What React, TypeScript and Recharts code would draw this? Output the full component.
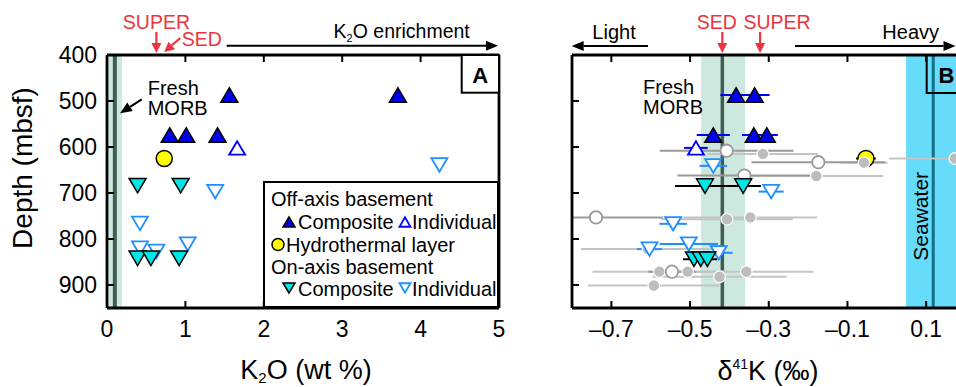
import React from 'react';
import {
  ScatterChart, Scatter, XAxis, YAxis, ErrorBar, ReferenceArea, ReferenceLine, ReferenceDot, Legend,
} from 'recharts';

const FONT = '"Liberation Sans", Arial, Helvetica, sans-serif';

// ---------- shared ----------
const depthTicks = [400, 500, 600, 700, 800, 900];
const depthDomain = [400, 950];

// ---------- Panel A: K2O (wt %) ----------
const k2oTicks = [0, 1, 2, 3, 4, 5];
const k2oTopTicks = [1, 2, 3, 4];
const offAxisCompositeA = [
  { k2o: 1.56, depth: 487 }, { k2o: 3.71, depth: 487 },
  { k2o: 0.8, depth: 574 }, { k2o: 1.01, depth: 574 }, { k2o: 1.41, depth: 574 },
];
const offAxisIndividualA = [{ k2o: 1.66, depth: 602 }];
const hydrothermalA = [{ k2o: 0.73, depth: 625 }];
const onAxisCompositeA = [
  { k2o: 0.39, depth: 684 }, { k2o: 0.94, depth: 684 },
  { k2o: 0.39, depth: 842 }, { k2o: 0.56, depth: 842 }, { k2o: 0.92, depth: 842 },
];
const onAxisIndividualA = [
  { k2o: 4.24, depth: 639 }, { k2o: 1.38, depth: 697 }, { k2o: 0.42, depth: 766 },
  { k2o: 1.03, depth: 811 }, { k2o: 0.42, depth: 820 }, { k2o: 0.63, depth: 827 },
];
const morbK2O = { low: 0, high: 0.19, mean: 0.1 };
const superK2O = 0.63;
const sedK2O = 0.73;

// ---------- Panel B: d41K (permil) ----------
const d41kTicks = [-0.7, -0.5, -0.3, -0.1, 0.1];
const offAxisCompositeB = [
  { d41k: -0.383, err: 0.04, depth: 487 }, { d41k: -0.336, err: 0.038, depth: 487 },
  { d41k: -0.441, err: 0.042, depth: 574 }, { d41k: -0.338, err: 0.03, depth: 574 },
  { d41k: -0.305, err: 0.028, depth: 574 },
];
const offAxisIndividualB = [{ d41k: -0.485, err: 0.03, depth: 602 }];
const hydrothermalB = [{ d41k: -0.053, err: 0.025, depth: 625 }];
const onAxisCompositeB = [
  { d41k: -0.462, err: 0.076, depth: 685 }, { d41k: -0.365, err: 0.045, depth: 685 },
  { d41k: -0.49, err: 0.028, depth: 844 }, { d41k: -0.473, err: 0.025, depth: 844 },
  { d41k: -0.456, err: 0.025, depth: 844 },
];
const onAxisIndividualB = [
  { d41k: -0.441, err: 0.035, depth: 641 }, { d41k: -0.294, err: 0.032, depth: 697 },
  { d41k: -0.543, err: 0.035, depth: 767 }, { d41k: -0.503, err: 0.074, depth: 811 },
  { d41k: -0.603, err: 0.032, depth: 822 }, { d41k: -0.427, err: 0.035, depth: 830 },
];
// err = [towards lighter, towards heavier]; the lighter side of one bar is cut by the axis frame
const literatureOpenB = [
  { d41k: -0.407, err: [0.17, 0.17], depth: 608 }, { d41k: -0.174, err: [0.17, 0.17], depth: 633 },
  { d41k: -0.362, err: [0.17, 0.17], depth: 662 }, { d41k: -0.739, err: [0.061, 0.17], depth: 753 },
  { d41k: -0.546, err: [0.06, 0.06], depth: 871 },
];
const literatureFilledB = [
  { d41k: -0.315, err: 0.14, depth: 615 }, { d41k: -0.058, err: 0.06, depth: 634 },
  { d41k: 0.173, err: 0.167, depth: 625 }, { d41k: -0.179, err: 0.17, depth: 663 },
  { d41k: -0.406, err: 0.167, depth: 757 }, { d41k: -0.347, err: 0.17, depth: 753 },
  { d41k: -0.607, err: 0.17, depth: 822 }, { d41k: -0.578, err: 0.17, depth: 871 },
  { d41k: -0.506, err: 0.1, depth: 871 }, { d41k: -0.357, err: 0.17, depth: 871 },
  { d41k: -0.425, err: 0.17, depth: 882 }, { d41k: -0.592, err: 0.167, depth: 901 },
];
const morbD41K = { low: -0.472, high: -0.36, mean: -0.418 };
const seawaterD41K = { low: 0.049, high: 0.3, mean: 0.118 };
const sedD41K = -0.418;
const superD41K = -0.322;

// ---------- colours ----------
const BLUE = '#0000f0';
const CYAN = '#00e6e6';
const DODGER = '#1e8fff';
const RED = '#ee3340';
const MORB_BAND = '#cde9df';
const MORB_LINE = '#3e5d54';
const SEA_BAND = '#66dbfa';
const SEA_LINE = '#147089';

// ---------- shapes ----------
const triPts = (cx: number, cy: number, w: number, h: number, up: boolean) =>
  up
    ? `${cx},${cy - h / 2} ${cx - w / 2},${cy + h / 2} ${cx + w / 2},${cy + h / 2}`
    : `${cx},${cy + h / 2} ${cx - w / 2},${cy - h / 2} ${cx + w / 2},${cy - h / 2}`;

const TriUpFilled = (p: any) => (
  <polygon points={triPts(p.cx, p.cy, p.w || 17, p.h || 14.5, true)} fill={BLUE} stroke="#000" strokeWidth={1.5} />
);
const TriUpOpen = (p: any) => (
  <polygon points={triPts(p.cx, p.cy, p.w || 16, p.h || 13.5, true)} fill="#fff" stroke="#0000ff" strokeWidth={1.8} />
);
const TriDownFilled = (p: any) => (
  <polygon points={triPts(p.cx, p.cy, p.w || 17, p.h || 14.5, false)} fill={CYAN} stroke="#000" strokeWidth={1.5} />
);
const TriDownOpen = (p: any) => (
  <polygon points={triPts(p.cx, p.cy, p.w || 16, p.h || 13.5, false)} fill="#fff" stroke={DODGER} strokeWidth={1.8} />
);
const YellowDot = (p: any) => (
  <circle cx={p.cx} cy={p.cy} r={p.r || 8} fill="#ffff00" stroke="#000" strokeWidth={1.5} />
);
const GreyOpen = (p: any) => (
  <circle cx={p.cx} cy={p.cy} r={6.2} fill="#fff" stroke="#9a9a9a" strokeWidth={1.8} />
);
const GreyFilled = (p: any) => (
  <circle cx={p.cx} cy={p.cy} r={5.8} fill="#bdbdbd" stroke="#fff" strokeWidth={1.2} />
);

// ---------- ticks ----------
const fmtA = (v: number) => String(v);
const fmtB = (v: number) => (v < 0 ? '\u2013' + Math.abs(v).toFixed(1) : v.toFixed(1));

const makeBottomTick = (fmt: (v: number) => string) => (p: any) => (
  <g>
    <line x1={p.x} x2={p.x} y1={p.y} y2={p.y - 7} stroke="#000" strokeWidth={2} />
    <text x={p.x} y={p.y + 29} textAnchor="middle" fontSize={23} fontFamily={FONT} fill="#000">{fmt(p.payload.value)}</text>
  </g>
);
const TopTick = (p: any) => (
  <line x1={p.x} x2={p.x} y1={p.y} y2={p.y + 7} stroke="#000" strokeWidth={2} />
);
const LeftTickLabeled = (p: any) => (
  <g>
    <line x1={p.x} x2={p.x + 7} y1={p.y} y2={p.y} stroke="#000" strokeWidth={2} />
    <text x={p.x - 10} y={p.y + 8} textAnchor="end" fontSize={23} fontFamily={FONT} fill="#000">{p.payload.value}</text>
  </g>
);
const LeftTickPlain = (p: any) => (
  <line x1={p.x} x2={p.x + 7} y1={p.y} y2={p.y} stroke="#000" strokeWidth={2} />
);

const AXIS_LINE = { stroke: '#000', strokeWidth: 2.8 };

// ---------- annotation arrows bound to data ----------
const VArrow = ({ cx, cy, color, label, dxText }: any) => (
  <g>
    <line x1={cx} x2={cx} y1={cy - 23} y2={cy - 10} stroke={color} strokeWidth={2.2} />
    <polygon points={`${cx},${cy - 2} ${cx - 5},${cy - 12} ${cx + 5},${cy - 12}`} fill={color} />
    <text x={cx + dxText} y={cy - 26} textAnchor="middle" fontSize={19.5} fontFamily={FONT} fill={color}>{label}</text>
  </g>
);
const SedArrowA = ({ cx, cy }: any) => {
  const tx = cx, ty = cy - 3;
  const sx = cx + 16, sy = cy - 17;
  const ang = Math.atan2(ty - sy, tx - sx);
  const L = 10, W = 5;
  const bx = tx - L * Math.cos(ang), by = ty - L * Math.sin(ang);
  const nx = -Math.sin(ang) * W, ny = Math.cos(ang) * W;
  return (
    <g>
      <line x1={sx} y1={sy} x2={bx} y2={by} stroke={RED} strokeWidth={2.2} />
      <polygon points={`${tx},${ty} ${bx + nx},${by + ny} ${bx - nx},${by - ny}`} fill={RED} />
      <text x={cx + 37.5} y={cy - 9} textAnchor="middle" fontSize={19.5} fontFamily={FONT} fill={RED}>SED</text>
    </g>
  );
};

// ---------- legend ----------
const LegendA = () => (
  <svg width={236} height={127} style={{ display: 'block' }}>
    <rect x={1} y={1} width={234} height={125} fill="#fff" stroke="#000" strokeWidth={2} />
    <g fontFamily={FONT} fontSize={20} fill="#000">
      <text x={8} y={24.5}>Off-axis basement</text>
      <TriUpFilled cx={26} cy={41} w={12} h={10} />
      <text x={35} y={47.5}>Composite</text>
      <TriUpOpen cx={142} cy={41} w={11} h={9.5} />
      <text x={149} y={47.5}>Individual</text>
      <YellowDot cx={15} cy={63.5} r={6} />
      <text x={23} y={70.5}>Hydrothermal layer</text>
      <text x={8} y={93}>On-axis basement</text>
      <TriDownFilled cx={26} cy={107} w={12} h={10} />
      <text x={35} y={114.5}>Composite</text>
      <TriDownOpen cx={142} cy={107} w={11} h={9.5} />
      <text x={149} y={114.5}>Individual</text>
    </g>
  </svg>
);

const Arrow = ({ x1, y1, x2, y2, color = '#000', w = 2 }: any) => {
  const ang = Math.atan2(y2 - y1, x2 - x1);
  const L = 12, W = 5;
  const bx = x2 - L * Math.cos(ang), by = y2 - L * Math.sin(ang);
  const nx = -Math.sin(ang) * W, ny = Math.cos(ang) * W;
  return (
    <g>
      <line x1={x1} y1={y1} x2={bx} y2={by} stroke={color} strokeWidth={w} />
      <polygon points={`${x2},${y2} ${bx + nx},${by + ny} ${bx - nx},${by - ny}`} fill={color} />
    </g>
  );
};

export default function App() {
  return (
    <div style={{ position: 'fixed', left: 0, top: 0, width: 956, height: 387, overflow: 'hidden', background: '#fff', fontFamily: FONT }}>
      {/* Panel A */}
      <div style={{ position: 'absolute', left: 0, top: 0 }}>
        <ScatterChart width={520} height={387} margin={{ top: 54, right: 20, bottom: 78, left: 106 }}>
          <XAxis xAxisId={0} type="number" dataKey="k2o" domain={[0, 5]} ticks={k2oTicks} interval={0}
            orientation="bottom" height={1} tickSize={0} tickMargin={0} tickLine={false}
            axisLine={AXIS_LINE} tick={makeBottomTick(fmtA)} allowDataOverflow />
          <XAxis xAxisId="top" type="number" dataKey="k2o" domain={[0, 5]} ticks={k2oTopTicks} interval={0}
            orientation="top" height={1} tickSize={0} tickMargin={0} tickLine={false}
            axisLine={AXIS_LINE} tick={TopTick} allowDataOverflow />
          <YAxis yAxisId={0} type="number" dataKey="depth" domain={depthDomain} reversed ticks={depthTicks} interval={0}
            width={1} tickSize={0} tickMargin={0} tickLine={false} axisLine={AXIS_LINE} tick={LeftTickLabeled} allowDataOverflow />
          <YAxis yAxisId="right" type="number" dataKey="depth" domain={depthDomain} reversed orientation="right"
            width={1} tick={false} tickLine={false} axisLine={AXIS_LINE} allowDataOverflow />
          <ReferenceArea x1={morbK2O.low} x2={morbK2O.high} fill={MORB_BAND} fillOpacity={1} stroke="none" ifOverflow="hidden" />
          <ReferenceLine x={morbK2O.mean} stroke={MORB_LINE} strokeWidth={4} />
          <Scatter data={onAxisIndividualA} shape={TriDownOpen} isAnimationActive={false} />
          <Scatter data={onAxisCompositeA} shape={TriDownFilled} isAnimationActive={false} />
          <Scatter data={hydrothermalA} shape={YellowDot} isAnimationActive={false} />
          <Scatter data={offAxisIndividualA} shape={TriUpOpen} isAnimationActive={false} />
          <Scatter data={offAxisCompositeA} shape={TriUpFilled} isAnimationActive={false} />
          <ReferenceDot x={superK2O} y={400} ifOverflow="visible" shape={(p: any) => <VArrow {...p} color={RED} label="SUPER" dxText={0} />} />
          <ReferenceDot x={sedK2O} y={400} ifOverflow="visible" shape={(p: any) => <SedArrowA {...p} />} />
          <Legend layout="vertical" align="center" verticalAlign="middle" content={() => <LegendA />}
            wrapperStyle={{ position: 'absolute', left: 263, top: 181, width: 236, height: 127 }} />
        </ScatterChart>
      </div>

      {/* Panel B */}
      <div style={{ position: 'absolute', left: 530, top: 0 }}>
        <ScatterChart width={450} height={387} margin={{ top: 54, right: 13.5, bottom: 78, left: 41 }}>
          <XAxis xAxisId={0} type="number" dataKey="d41k" domain={[-0.8, 0.2]} ticks={d41kTicks} interval={0}
            orientation="bottom" height={1} tickSize={0} tickMargin={0} tickLine={false}
            axisLine={AXIS_LINE} tick={makeBottomTick(fmtB)} allowDataOverflow />
          <XAxis xAxisId="top" type="number" dataKey="d41k" domain={[-0.8, 0.2]} ticks={d41kTicks} interval={0}
            orientation="top" height={1} tickSize={0} tickMargin={0} tickLine={false}
            axisLine={AXIS_LINE} tick={TopTick} allowDataOverflow />
          <YAxis yAxisId={0} type="number" dataKey="depth" domain={depthDomain} reversed ticks={depthTicks} interval={0}
            width={1} tickSize={0} tickMargin={0} tickLine={false} axisLine={AXIS_LINE} tick={LeftTickPlain} allowDataOverflow />
          <YAxis yAxisId="right" type="number" dataKey="depth" domain={depthDomain} reversed orientation="right"
            width={1} tick={false} tickLine={false} axisLine={AXIS_LINE} allowDataOverflow />
          <ReferenceArea x1={morbD41K.low} x2={morbD41K.high} fill={MORB_BAND} fillOpacity={1} stroke="none" ifOverflow="hidden" />
          <ReferenceArea x1={seawaterD41K.low} x2={seawaterD41K.high} fill={SEA_BAND} fillOpacity={1} stroke="none" ifOverflow="hidden" />
          <ReferenceLine x={morbD41K.mean} stroke={MORB_LINE} strokeWidth={3.5} />
          <ReferenceLine x={seawaterD41K.mean} stroke={SEA_LINE} strokeWidth={3} />
          <Scatter data={hydrothermalB} shape={YellowDot} isAnimationActive={false}>
            <ErrorBar dataKey="err" direction="x" width={0} stroke="#000" strokeWidth={2} isAnimationActive={false} />
          </Scatter>
          <Scatter data={literatureFilledB} shape={GreyFilled} isAnimationActive={false}>
            <ErrorBar dataKey="err" direction="x" width={0} stroke="#c4c4c4" strokeWidth={2} isAnimationActive={false} />
          </Scatter>
          <Scatter data={literatureOpenB} shape={GreyOpen} isAnimationActive={false}>
            <ErrorBar dataKey="err" direction="x" width={0} stroke="#9a9a9a" strokeWidth={2} isAnimationActive={false} />
          </Scatter>
          <Scatter data={onAxisIndividualB} shape={TriDownOpen} isAnimationActive={false}>
            <ErrorBar dataKey="err" direction="x" width={0} stroke={DODGER} strokeWidth={2} isAnimationActive={false} />
          </Scatter>
          <Scatter data={onAxisCompositeB} shape={TriDownFilled} isAnimationActive={false}>
            <ErrorBar dataKey="err" direction="x" width={0} stroke="#000" strokeWidth={2} isAnimationActive={false} />
          </Scatter>
          <Scatter data={offAxisIndividualB} shape={TriUpOpen} isAnimationActive={false}>
            <ErrorBar dataKey="err" direction="x" width={0} stroke="#0000ff" strokeWidth={2} isAnimationActive={false} />
          </Scatter>
          <Scatter data={offAxisCompositeB} shape={TriUpFilled} isAnimationActive={false}>
            <ErrorBar dataKey="err" direction="x" width={0} stroke="#0000ff" strokeWidth={2} isAnimationActive={false} />
          </Scatter>
          <ReferenceDot x={sedD41K} y={400} ifOverflow="visible" shape={(p: any) => <VArrow {...p} color={RED} label="SED" dxText={-5.6} />} />
          <ReferenceDot x={superD41K} y={400} ifOverflow="visible" shape={(p: any) => <VArrow {...p} color={RED} label="SUPER" dxText={17} />} />
        </ScatterChart>
      </div>

      {/* Overlay texts */}
      <svg width={956} height={387} style={{ position: 'absolute', left: 0, top: 0, pointerEvents: 'none' }}>
        <g fontFamily={FONT} fill="#000">
          {/* Panel A */}
          <text transform="translate(32,168) rotate(-90)" textAnchor="middle" fontSize={28}>Depth (mbsf)</text>
          <text x={306} y={379} textAnchor="middle" fontSize={27}>
            K<tspan fontSize={15} dy={4}>2</tspan><tspan dy={-4}>O (wt %)</tspan>
          </text>
          <text x={401.7} y={38} textAnchor="middle" fontSize={19.5}>
            K<tspan fontSize={11} dy={4}>2</tspan><tspan dy={-4}>O enrichment</tspan>
          </text>
          <Arrow x1={226.7} y1={45.7} x2={498} y2={45.7} />
          <text x={147.7} y={94.5} fontSize={20}>Fresh</text>
          <text x={147.7} y={115} fontSize={20}>MORB</text>
          <Arrow x1={141.7} y1={99.3} x2={120} y2={113.3} />
          <rect x={461.7} y={55} width={37.3} height={37.7} fill="#fff" stroke="#000" strokeWidth={2} />
          <text x={480.3} y={83} textAnchor="middle" fontSize={22} fontWeight="bold">A</text>

          {/* Panel B */}
          <text x={768} y={380} textAnchor="middle" fontSize={27}>
            δ<tspan fontSize={14} dy={-11}>41</tspan><tspan dy={11}>K (‰)</tspan>
          </text>
          <text x={614} y={39} textAnchor="middle" fontSize={20}>Light</text>
          <Arrow x1={648} y1={46} x2={571.7} y2={46} />
          <text x={910.7} y={39} textAnchor="middle" fontSize={20}>Heavy</text>
          <Arrow x1={795} y1={46} x2={955.5} y2={46} />
          <text x={643} y={93.5} fontSize={20}>Fresh</text>
          <text x={643} y={114} fontSize={20}>MORB</text>
          <text transform="translate(928,216.3) rotate(-90)" textAnchor="middle" fontSize={21}>Seawater</text>
          <rect x={926.7} y={55} width={40} height={38} fill="none" stroke="#000" strokeWidth={2} />
          <text x={946.5} y={83} textAnchor="middle" fontSize={22} fontWeight="bold">B</text>
        </g>
      </svg>
    </div>
  );
}
